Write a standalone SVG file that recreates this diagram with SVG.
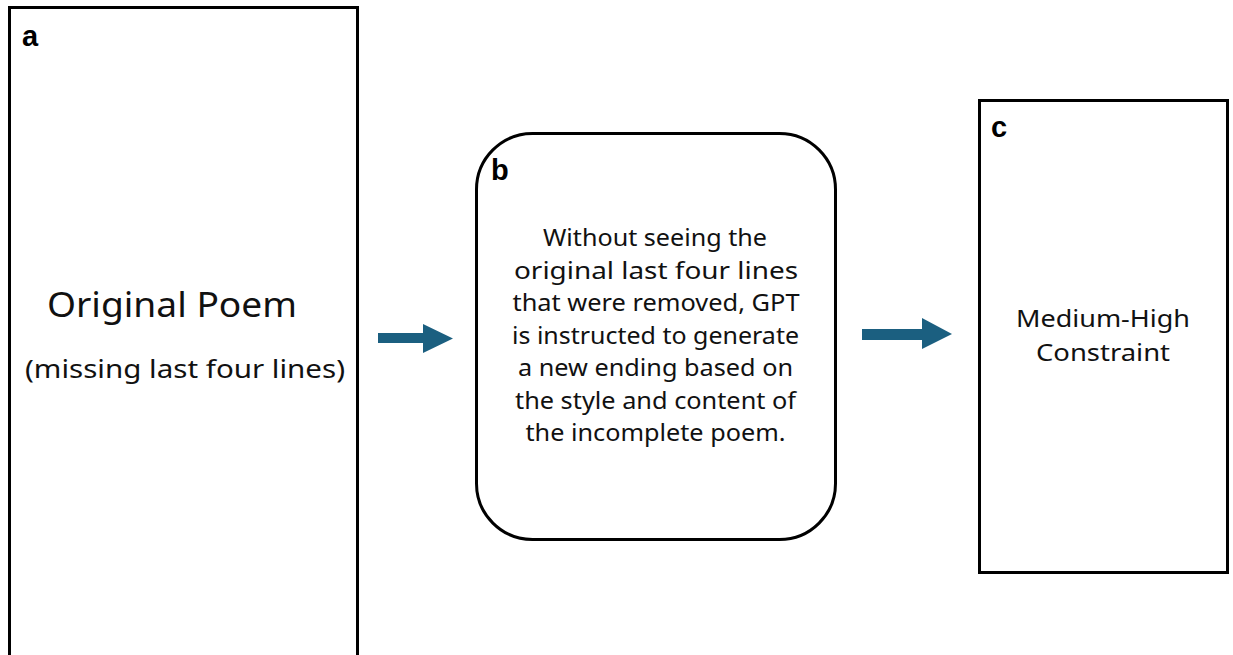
<svg xmlns="http://www.w3.org/2000/svg" width="1233" height="655" viewBox="0 0 1233 655">
<defs>
<style>
.box{fill:#fff;stroke:#000;stroke-width:3}
.lbl{font-family:"Liberation Sans",Arial,sans-serif;font-weight:bold;font-size:29px;fill:#000}
.t{font-family:"Noto Sans","Open Sans",sans-serif;fill:#111;text-anchor:middle}
.arr{fill:#1b5f80}
</style>
</defs>
<rect width="1233" height="655" fill="#fff"/>
<g id="node-a">
<rect class="box" x="9.5" y="7.5" width="348" height="660"/>
<text class="lbl" x="22" y="46">a</text>
<text class="t" x="172" y="317" font-size="35" textLength="250" lengthAdjust="spacingAndGlyphs">Original Poem</text>
<text class="t" x="185" y="378" font-size="26" textLength="320" lengthAdjust="spacingAndGlyphs">(missing last four lines)</text>
</g>
<g id="node-b">
<rect class="box" x="476.5" y="133.5" width="359" height="406" rx="56" ry="56"/>
<text class="lbl" x="491" y="180">b</text>
<g class="t" font-size="23">
<text x="655" y="246" textLength="224" lengthAdjust="spacingAndGlyphs">Without seeing the</text>
<text x="656" y="278.5" textLength="284" lengthAdjust="spacingAndGlyphs">original last four lines</text>
<text x="656" y="311" textLength="287" lengthAdjust="spacingAndGlyphs">that were removed, GPT</text>
<text x="655.5" y="343.5" textLength="287" lengthAdjust="spacingAndGlyphs">is instructed to generate</text>
<text x="655.5" y="376" textLength="275" lengthAdjust="spacingAndGlyphs">a new ending based on</text>
<text x="655.5" y="408.5" textLength="281" lengthAdjust="spacingAndGlyphs">the style and content of</text>
<text x="655.5" y="441" textLength="260" lengthAdjust="spacingAndGlyphs">the incomplete poem.</text>
</g>
</g>
<g id="node-c">
<rect class="box" x="979.5" y="100.5" width="248" height="472"/>
<text class="lbl" x="991" y="137">c</text>
<text class="t" x="1103" y="327" font-size="24" textLength="174" lengthAdjust="spacingAndGlyphs">Medium-High</text>
<text class="t" x="1103" y="361" font-size="24" textLength="134" lengthAdjust="spacingAndGlyphs">Constraint</text>
</g>
<g id="connectors">
<path class="arr" d="M378 333 H423 V324 L453 338.5 L423 353 V343 H378 Z"/>
<path class="arr" d="M862 329 H922 V318 L952 334 L922 349 V340 H862 Z"/>
</g>
</svg>
